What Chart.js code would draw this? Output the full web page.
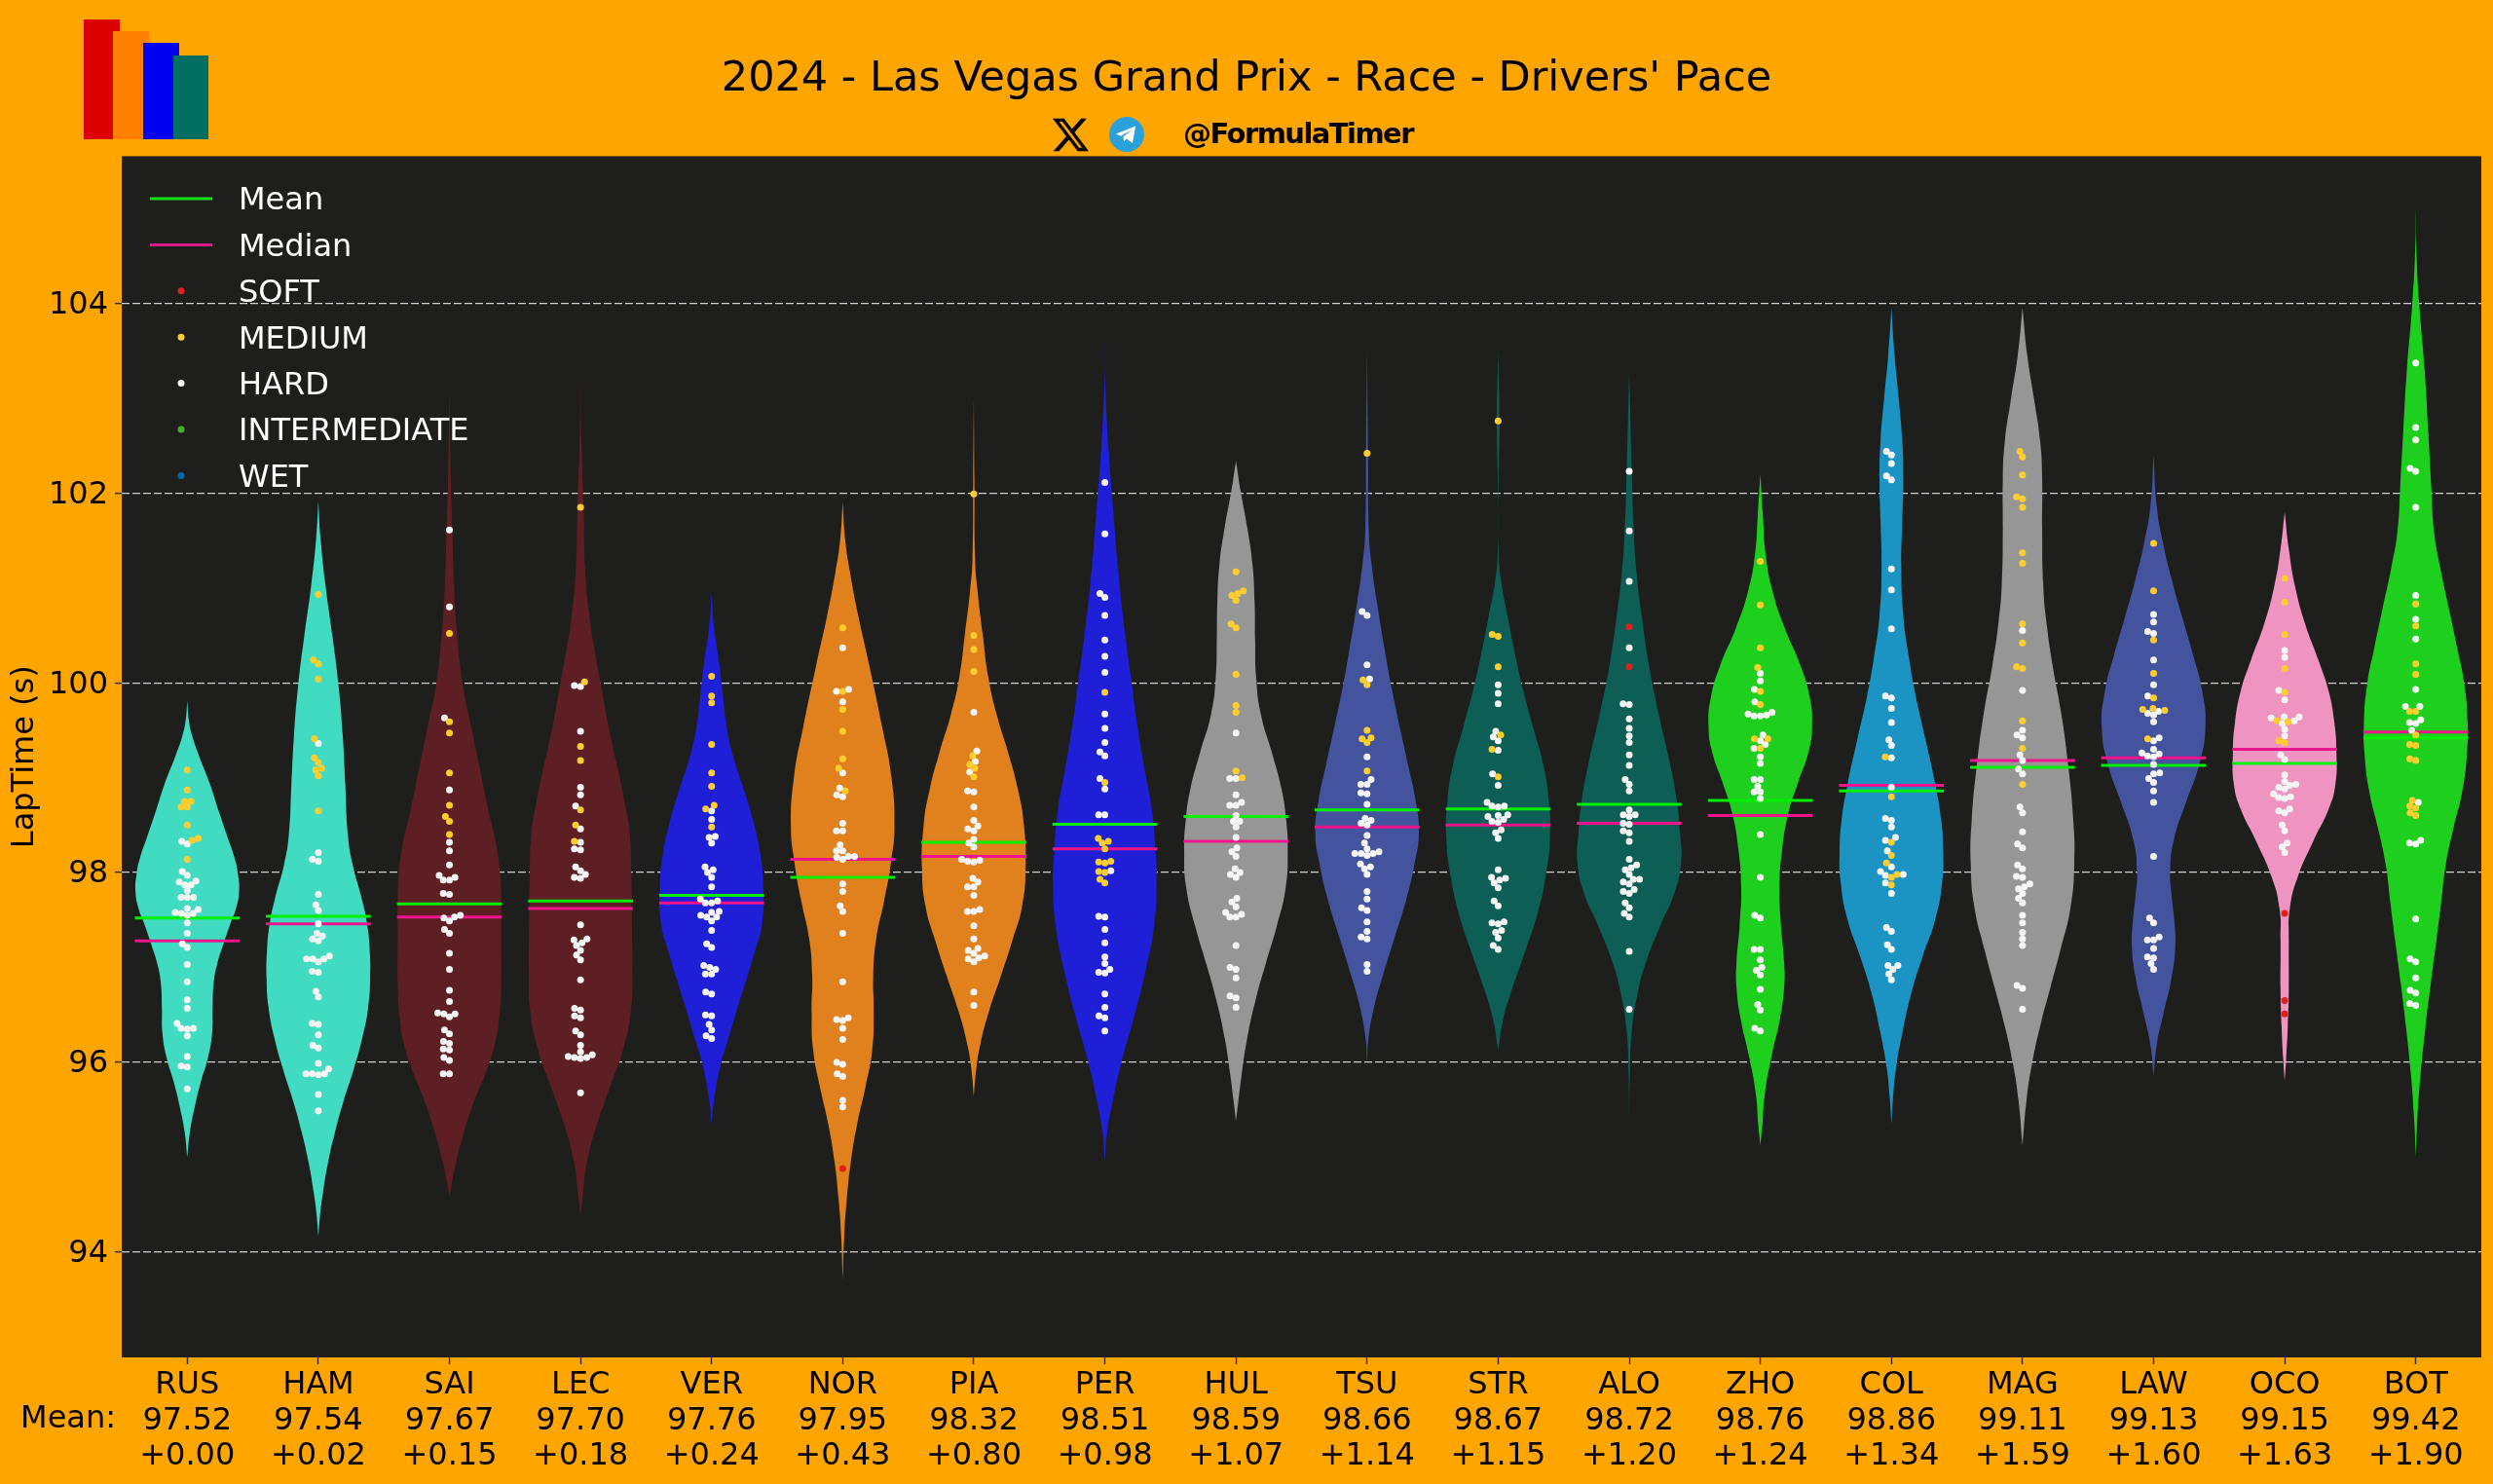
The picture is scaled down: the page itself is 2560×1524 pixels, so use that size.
<!DOCTYPE html>
<html>
<head>
<meta charset="utf-8">
<title>Drivers' Pace</title>
<script src="https://cdn.jsdelivr.net/npm/chart.js@4"></script>
<style>
  html, body { margin: 0; padding: 0; background: #FFA500; }
  #wrap { position: relative; width: 2560px; height: 1524px; overflow: hidden; }
  #wrap canvas { position: absolute; left: 0; top: 0; }
  .bar { position: absolute; }
  #handle { position: absolute; left: 1215px; top: 120px; font: bold 29px "DejaVu Sans", sans-serif; color: #000; letter-spacing: -1.55px; }
  svg { position: absolute; }
</style>
</head>
<body>
<div id="wrap">
  <canvas id="chart" width="2560" height="1524"></canvas>
  <div class="bar" style="left:86px;top:20px;width:37px;height:123px;background:#DC0000"></div>
  <div class="bar" style="left:116px;top:32px;width:37px;height:111px;background:#FF8000"></div>
  <div class="bar" style="left:147px;top:44px;width:37px;height:99px;background:#0000F0"></div>
  <div class="bar" style="left:178px;top:57px;width:36px;height:86px;background:#006F62"></div>
  <svg style="left:1081px;top:120px" width="37" height="37" viewBox="0 0 24 24"><path fill="#000" d="M18.901 1.153h3.68l-8.04 9.19L24 22.846h-7.406l-5.8-7.584-6.638 7.584H.474l8.6-9.83L0 1.154h7.594l5.243 6.932ZM17.61 20.644h2.039L6.486 3.24H4.298Z"/></svg>
  <svg style="left:1139px;top:120px" width="36" height="36" viewBox="0 0 36 36"><circle cx="18" cy="18" r="18" fill="#2AA1DA"/><path fill="#fff" d="M7 17.5 27 9.5 24 27 18 22.5 15 25.5 14.5 20.5 23.5 13 12 19.8Z"/></svg>
  <div id="handle">@FormulaTimer</div>
</div>
<script>
// ── data ──
const drivers = ['RUS','HAM','SAI','LEC','VER','NOR','PIA','PER','HUL','TSU','STR','ALO','ZHO','COL','MAG','LAW','OCO','BOT'];
const means = [97.52,97.54,97.67,97.70,97.76,97.95,98.32,98.51,98.59,98.66,98.67,98.72,98.76,98.86,99.11,99.13,99.15,99.42];
const gaps = ['+0.00','+0.02','+0.15','+0.18','+0.24','+0.43','+0.80','+0.98','+1.07','+1.14','+1.15','+1.20','+1.24','+1.34','+1.59','+1.60','+1.63','+1.90'];
const medians = [97.28,97.46,97.53,97.62,97.68,98.14,98.17,98.25,98.33,98.48,98.50,98.52,98.60,98.92,99.18,99.21,99.30,99.48];
const yTicks = [94,96,98,100,102,104];

const softLaps = [
  [],[],[],[],[],
  [94.88],
  [],[],[],[],[],
  [100.59,100.17],
  [],[],[],[],
  [97.57,96.65,96.51],
  []
];
const mediumLaps = [
  [99.08,98.87,98.75,98.75,98.69,98.69,98.50,98.36,98.34,98.14],
  [100.93,100.24,100.20,100.04,99.41,99.21,99.16,99.10,99.08,99.02,98.65],
  [100.52,99.59,99.47,99.05,98.71,98.59,98.54,98.40],
  [101.85,100.01,99.33,99.18,98.66,98.50,98.33],
  [100.07,99.86,99.79,99.35,99.05,98.91,98.71,98.67,98.48],
  [100.58,99.91,99.72,99.49,99.20,99.10,98.86],
  [101.99,100.50,100.35,100.12,99.23,99.14,99.10,99.01],
  [99.90,98.95,98.33,98.36,98.31,98.25,98.11,98.10,98.12,98.01,98.00,97.93,97.89],
  [101.17,100.97,100.92,100.94,100.87,100.62,100.58,100.09,99.76,99.69,99.07,99.00],
  [102.42,100.03,99.98,99.50,99.42,99.41,99.37,99.07],
  [102.76,100.51,100.49,100.17,99.45,99.30,99.01],
  [],
  [101.28,100.82,100.37,100.16,99.91,99.77,99.41,99.41,99.31],
  [99.22,98.80,98.32,98.18,98.10,97.95,97.98,97.87],
  [102.44,102.38,102.19,101.96,101.94,101.85,101.37,101.26,100.62,100.42,100.17,100.15,99.60,99.31,98.93],
  [101.47,100.97,100.45,100.10,99.84,99.73,99.72,99.71,99.41],
  [101.10,100.85,100.51,100.15,99.90,99.59,99.60,99.39,99.37],
  [100.83,100.60,100.20,100.09,99.70,99.70,99.45,99.35,99.34,99.20,99.18,98.76,98.70,98.68,98.63,98.60]
];
const hardLaps = [
  [98.33,98.30,98.01,97.97,97.91,97.90,97.87,97.87,97.81,97.74,97.74,97.74,97.62,97.61,97.58,97.57,97.57,97.55,97.47,97.36,97.25,97.21,97.03,96.85,96.66,96.57,96.41,96.36,96.36,96.35,96.28,96.06,95.96,95.95,95.72],
  [99.36,98.21,98.14,98.12,97.77,97.66,97.60,97.46,97.36,97.33,97.30,97.28,97.12,97.09,97.09,97.09,97.06,96.96,96.95,96.75,96.69,96.41,96.40,96.29,96.18,96.15,95.99,95.93,95.88,95.87,95.88,95.88,95.66,95.49],
  [101.61,100.80,99.63,98.87,98.32,98.23,98.08,97.97,97.95,97.92,97.92,97.78,97.77,97.55,97.53,97.52,97.49,97.40,97.36,97.15,96.98,96.76,96.64,96.52,96.51,96.51,96.48,96.34,96.30,96.22,96.20,96.14,96.13,96.05,96.02,95.88,95.88],
  [99.97,99.96,99.49,98.90,98.82,98.70,98.46,98.32,98.25,98.24,98.06,98.02,97.98,97.95,97.94,97.45,97.29,97.30,97.26,97.23,97.18,97.13,97.08,96.87,96.57,96.55,96.49,96.47,96.33,96.29,96.18,96.11,96.08,96.05,96.04,96.05,96.06,95.68],
  [98.65,98.56,98.37,98.38,98.31,98.06,98.03,98.00,97.95,97.85,97.72,97.68,97.68,97.70,97.59,97.58,97.55,97.53,97.53,97.49,97.39,97.25,97.21,97.02,97.00,96.98,96.93,96.93,96.74,96.72,96.50,96.49,96.40,96.34,96.28,96.25],
  [100.37,99.91,99.93,99.80,99.05,98.89,98.82,98.80,98.52,98.44,98.44,98.29,98.23,98.23,98.16,98.14,98.17,98.17,97.88,97.80,97.65,97.59,97.36,96.85,96.45,96.44,96.47,96.36,96.24,96.00,95.98,95.88,95.85,95.60,95.53],
  [99.69,99.28,99.17,99.06,98.86,98.85,98.69,98.55,98.49,98.46,98.44,98.35,98.31,98.27,98.14,98.12,98.11,98.13,97.94,97.90,97.85,97.85,97.76,97.59,97.59,97.61,97.44,97.30,97.20,97.18,97.15,97.12,97.09,97.10,97.06,96.74,96.60],
  [102.11,101.57,100.94,100.90,100.71,100.45,100.28,100.11,99.67,99.52,99.37,99.27,99.23,98.99,98.88,98.61,98.61,98.02,97.54,97.53,97.40,97.26,97.11,97.04,96.98,96.95,96.94,96.72,96.58,96.49,96.47,96.33],
  [99.47,98.99,98.99,98.82,98.71,98.71,98.74,98.60,98.54,98.54,98.48,98.37,98.26,98.22,98.17,98.04,98.00,97.98,97.95,97.73,97.69,97.64,97.58,97.53,97.53,97.56,97.23,97.00,96.98,96.89,96.70,96.68,96.58],
  [100.75,100.71,100.19,100.04,99.22,98.98,98.93,98.93,98.84,98.83,98.72,98.57,98.55,98.52,98.50,98.39,98.31,98.25,98.22,98.20,98.18,98.20,98.20,98.09,98.06,98.04,97.98,97.80,97.72,97.63,97.60,97.48,97.38,97.32,97.30,97.03,96.96],
  [99.98,99.89,99.78,99.49,99.43,99.39,99.29,99.04,98.92,98.74,98.70,98.70,98.69,98.60,98.59,98.61,98.56,98.54,98.53,98.45,98.42,98.36,98.03,97.95,97.94,97.92,97.89,97.84,97.70,97.65,97.47,97.46,97.48,97.39,97.37,97.31,97.23,97.19],
  [102.23,101.60,101.07,100.37,99.78,99.77,99.62,99.52,99.44,99.37,99.24,99.13,98.98,98.93,98.86,98.66,98.61,98.61,98.59,98.52,98.51,98.44,98.42,98.33,98.14,98.08,98.05,98.03,97.98,97.93,97.93,97.90,97.88,97.82,97.80,97.78,97.68,97.63,97.57,97.53,97.17,96.56],
  [100.10,100.02,99.93,99.80,99.67,99.65,99.65,99.66,99.69,99.45,99.39,99.35,99.31,99.22,99.15,98.98,98.98,98.91,98.85,98.85,98.78,98.40,97.95,97.55,97.52,97.19,97.19,97.08,97.00,96.97,96.92,96.77,96.61,96.55,96.36,96.33],
  [102.44,102.40,102.31,102.18,102.14,101.20,100.98,100.57,99.86,99.84,99.73,99.58,99.40,99.34,99.21,98.90,98.57,98.55,98.48,98.37,98.34,98.23,98.06,98.01,97.97,97.98,97.89,97.78,97.42,97.38,97.24,97.19,97.02,97.02,96.98,96.93,96.87],
  [100.55,99.92,99.50,99.45,99.42,99.24,99.18,99.09,99.04,98.69,98.63,98.43,98.30,98.26,98.08,98.04,97.96,97.95,97.88,97.85,97.83,97.78,97.73,97.68,97.55,97.47,97.37,97.30,97.23,96.81,96.78,96.56],
  [100.72,100.64,100.54,100.52,100.24,99.98,99.86,99.68,99.66,99.70,99.59,99.42,99.39,99.30,99.25,99.26,99.23,99.22,99.14,99.04,99.05,98.99,98.95,98.86,98.74,98.17,97.52,97.47,97.32,97.29,97.29,97.20,97.11,97.10,97.04,96.98],
  [100.34,100.27,99.92,99.82,99.63,99.64,99.64,99.57,99.60,99.51,99.44,99.24,99.19,99.03,98.96,98.92,98.93,98.90,98.88,98.83,98.79,98.78,98.80,98.67,98.65,98.63,98.50,98.44,98.31,98.27,98.21],
  [103.37,102.69,102.56,102.26,102.23,101.85,100.92,100.67,100.46,99.93,99.75,99.75,99.61,99.58,99.57,99.50,98.74,98.34,98.31,98.30,97.51,97.09,97.06,96.89,96.76,96.73,96.62,96.60]
];

// violin outlines: [lap time, density relative to the widest point]
const violinProfiles = [
  [[99.81,0],[99.61,.03],[99.45,.09],[99.24,.22],[98.93,.44],[98.66,.60],[98.40,.76],[98.14,.92],[97.98,.98],[97.80,1],[97.62,.94],[97.46,.83],[97.25,.70],[97.04,.58],[96.83,.51],[96.57,.49],[96.31,.48],[96.05,.40],[95.79,.26],[95.52,.14],[95.26,.05],[95.00,0]],
  [[101.91,0],[101.54,.04],[101.02,.14],[100.50,.27],[99.97,.39],[99.45,.47],[98.93,.52],[98.40,.57],[98.09,.66],[97.72,.84],[97.46,.94],[97.20,.99],[96.88,1],[96.57,.96],[96.26,.85],[95.94,.69],[95.58,.48],[95.26,.32],[94.95,.19],[94.63,.09],[94.37,.03],[94.16,0]],
  [[103.10,0],[102.07,.03],[101.54,.06],[101.02,.09],[100.50,.15],[99.97,.26],[99.56,.41],[99.14,.57],[98.66,.75],[98.30,.90],[97.98,.98],[97.72,1],[97.36,1],[96.83,1],[96.52,.97],[96.20,.88],[95.89,.70],[95.58,.47],[95.26,.28],[94.95,.13],[94.74,.05],[94.58,0]],
  [[103.20,0],[102.68,.012],[101.83,.06],[101.20,.09],[100.71,.17],[100.32,.28],[99.99,.39],[99.54,.54],[99.14,.70],[98.75,.85],[98.42,.95],[97.99,.98],[97.57,.99],[96.92,1],[96.53,.97],[96.13,.82],[95.74,.57],[95.35,.32],[94.96,.13],[94.63,.05],[94.37,0]],
  [[100.95,0],[100.58,.05],[100.19,.15],[99.86,.22],[99.54,.29],[99.24,.41],[98.88,.62],[98.55,.80],[98.23,.93],[97.84,1],[97.44,.97],[97.18,.84],[96.92,.70],[96.59,.51],[96.26,.33],[95.94,.16],[95.61,.05],[95.35,0]],
  [[101.90,0],[101.50,.05],[101.17,.14],[100.71,.30],[100.19,.51],[99.54,.76],[99.01,.94],[98.49,1],[98.10,.93],[97.70,.80],[97.31,.65],[96.92,.59],[96.53,.60],[96.13,.57],[95.74,.44],[95.35,.28],[94.96,.16],[94.56,.08],[94.17,.03],[93.70,0]],
  [[103.00,0],[102.15,.012],[101.30,.025],[100.98,.07],[100.52,.17],[100.06,.28],[99.67,.44],[99.27,.66],[98.88,.85],[98.49,.97],[98.03,1],[97.64,.93],[97.31,.76],[96.92,.53],[96.53,.29],[96.20,.13],[95.94,.05],[95.64,0]],
  [[103.60,0],[103.14,.01],[102.48,.07],[101.83,.16],[101.17,.26],[100.52,.39],[99.99,.52],[99.54,.63],[99.08,.77],[98.69,.90],[98.23,.98],[97.84,1],[97.44,.95],[97.05,.82],[96.53,.59],[96.00,.32],[95.61,.16],[95.28,.05],[94.96,0]],
  [[102.34,0],[102.02,.09],[101.63,.22],[101.24,.32],[100.85,.36],[100.45,.37],[100.06,.39],[99.67,.48],[99.27,.69],[98.88,.88],[98.55,.97],[98.23,1],[97.84,.96],[97.44,.79],[97.05,.58],[96.66,.38],[96.26,.22],[95.87,.11],[95.61,.05],[95.38,0]],
  [[103.50,0],[102.42,.02],[101.60,.035],[101.24,.09],[100.85,.19],[100.32,.35],[99.93,.48],[99.54,.63],[99.14,.79],[98.75,.94],[98.42,1],[98.10,.92],[97.70,.75],[97.31,.53],[96.92,.31],[96.59,.14],[96.26,.03],[96.00,0]],
  [[103.50,0],[102.74,.025],[102.09,.006],[101.43,.006],[101.10,.05],[100.71,.18],[100.32,.32],[99.93,.48],[99.54,.67],[99.14,.87],[98.75,.98],[98.36,1],[97.97,.92],[97.57,.76],[97.18,.53],[96.79,.28],[96.46,.10],[96.13,0]],
  [[103.30,0],[102.22,.05],[101.57,.09],[101.17,.14],[100.71,.24],[100.19,.38],[99.67,.57],[99.14,.79],[98.75,.92],[98.42,.98],[98.10,1],[97.78,.87],[97.44,.60],[97.05,.32],[96.72,.16],[96.33,.05],[95.87,.012],[95.40,0]],
  [[102.20,0],[101.76,.05],[101.37,.10],[100.98,.23],[100.58,.47],[100.19,.77],[99.86,.95],[99.54,1],[99.27,.93],[98.95,.73],[98.62,.54],[98.23,.42],[97.84,.37],[97.44,.40],[97.05,.46],[96.79,.46],[96.46,.38],[96.07,.22],[95.68,.09],[95.35,.04],[95.12,0]],
  [[103.95,0],[103.46,.06],[103.00,.14],[102.55,.21],[102.15,.23],[101.70,.21],[101.24,.19],[100.71,.23],[100.26,.34],[99.86,.47],[99.40,.66],[98.95,.84],[98.56,.96],[98.23,1],[97.90,.98],[97.51,.85],[97.11,.60],[96.72,.38],[96.33,.22],[95.94,.09],[95.61,.03],[95.35,0]],
  [[103.95,0],[103.46,.09],[103.00,.22],[102.55,.34],[102.15,.38],[101.63,.38],[101.04,.40],[100.65,.46],[100.19,.58],[99.67,.75],[99.14,.88],[98.56,.98],[98.10,1],[97.64,.93],[97.18,.73],[96.79,.54],[96.40,.35],[96.00,.19],[95.61,.08],[95.12,0]],
  [[102.40,0],[101.87,.06],[101.48,.18],[101.09,.35],[100.70,.55],[100.30,.76],[99.91,.94],[99.52,1],[99.12,.87],[98.73,.62],[98.34,.39],[98.01,.32],[97.75,.35],[97.49,.40],[97.23,.42],[96.90,.35],[96.51,.19],[96.18,.06],[95.85,0]],
  [[101.80,0],[101.41,.08],[101.02,.20],[100.63,.39],[100.24,.65],[99.91,.85],[99.58,.96],[99.26,1],[98.93,.98],[98.67,.85],[98.34,.56],[97.95,.25],[97.62,.10],[97.29,.08],[96.77,.08],[96.38,.06],[96.05,.03],[95.80,0]],
  [[105.00,0],[104.55,.012],[103.97,.07],[103.31,.17],[102.66,.24],[102.07,.30],[101.61,.35],[101.22,.47],[100.76,.65],[100.37,.80],[99.98,.94],[99.58,1],[99.26,.99],[98.86,.90],[98.47,.73],[98.08,.58],[97.68,.49],[97.29,.40],[96.83,.29],[96.38,.19],[95.85,.09],[95.39,.03],[95.00,0]]
];

// ── styles ──
const violinColors = ['#40DBC0','#40DBC0','#5E1F24','#5E1F24','#1F1FD8','#E0811E','#E0811E','#1F1FD8','#969696','#43539E','#0D5F56','#0D5F56','#1ECF1E','#1B94C4','#969696','#43539E','#EF94C0','#1ECF1E'];
const compoundColors = { SOFT: '#E0201C', MEDIUM: '#FFCE2E', HARD: '#F5F5F5', INTERMEDIATE: '#43B02A', WET: '#0067AD' };
const MEAN_COLOR = '#00F000';
const MEDIAN_COLOR = '#F0148C';
const PANEL = '#1E1E1C';
const FONT = '"DejaVu Sans", sans-serif';
const HALF_WIDTH = 0.395;
const LINE_HALF = 0.4;
const LEGEND_ROWS = ['Mean','Median','SOFT','MEDIUM','HARD','INTERMEDIATE','WET'];

// beeswarm: same idea as a swarm plot, nearest free spot to the centre line
const PX_PER_LAP = 97.35, PX_PER_CAT = 134.6, DOT = 6.4;
function swarm(laps) {
  const sorted = laps.slice().sort((a, b) => a.lap - b.lap);
  const placed = [];
  sorted.forEach(p => {
    const py = p.lap * PX_PER_LAP;
    const near = placed.filter(q => Math.abs(q.py - py) < DOT);
    const candidates = [0];
    near.forEach(q => {
      const dx = Math.sqrt(DOT * DOT - (q.py - py) * (q.py - py));
      candidates.push(q.px - dx, q.px + dx);
    });
    candidates.sort((a, b) => Math.abs(a) - Math.abs(b));
    const px = candidates.find(c => near.every(q => Math.hypot(q.px - c, q.py - py) >= DOT - 0.01));
    placed.push({ px: px, py: py, lap: p.lap, compound: p.compound });
  });
  return placed;
}

const dots = { SOFT: [], MEDIUM: [], HARD: [] };
drivers.forEach((d, i) => {
  const laps = [];
  softLaps[i].forEach(v => laps.push({ lap: v, compound: 'SOFT' }));
  mediumLaps[i].forEach(v => laps.push({ lap: v, compound: 'MEDIUM' }));
  hardLaps[i].forEach(v => laps.push({ lap: v, compound: 'HARD' }));
  swarm(laps).forEach(p => dots[p.compound].push({ x: i + p.px / PX_PER_CAT, y: p.lap }));
});

const datasets = [];
drivers.forEach((d, i) => {
  const profile = violinProfiles[i];
  const right = profile.map(p => ({ x: i + p[1] * HALF_WIDTH, y: p[0] }));
  const left = profile.map(p => ({ x: i - p[1] * HALF_WIDTH, y: p[0] })).reverse();
  datasets.push({
    label: d + ' violin', data: right.concat(left),   // bottom tip twice keeps it sharp
    showLine: true, fill: 'shape', tension: 0.5, pointRadius: 0, borderWidth: 0,
    backgroundColor: violinColors[i], borderColor: violinColors[i], order: 4
  });
  datasets.push({
    label: d + ' mean', data: [{ x: i - LINE_HALF, y: means[i] }, { x: i + LINE_HALF, y: means[i] }],
    showLine: true, pointRadius: 0, borderWidth: 3, borderColor: MEAN_COLOR, order: 3
  });
  datasets.push({
    label: d + ' median', data: [{ x: i - LINE_HALF, y: medians[i] }, { x: i + LINE_HALF, y: medians[i] }],
    showLine: true, pointRadius: 0, borderWidth: 3, borderColor: MEDIAN_COLOR, order: 2
  });
});
Object.keys(dots).forEach(c => {
  datasets.push({
    label: c, data: dots[c], pointRadius: 3.5, pointBorderWidth: 0,
    pointBackgroundColor: compoundColors[c], showLine: false, order: 1
  });
});

const panelPlugin = {
  id: 'panel',
  beforeDraw(chart) {
    const a = chart.chartArea, ctx = chart.ctx;
    ctx.save();
    ctx.fillStyle = PANEL;
    ctx.fillRect(a.left, a.top, a.right - a.left, a.bottom - a.top);
    ctx.restore();
  },
  afterDraw(chart) {
    const ctx = chart.ctx;
    ctx.save();
    // "Mean:" row head
    ctx.font = '32px ' + FONT;
    ctx.fillStyle = '#000';
    ctx.textAlign = 'right';
    ctx.textBaseline = 'middle';
    ctx.fillText('Mean:', 119, 1457.5);
    // legend
    ctx.textAlign = 'left';
    LEGEND_ROWS.forEach((name, r) => {
      const y = 207 + r * 47.4;
      if (name === 'Mean' || name === 'Median') {
        ctx.strokeStyle = name === 'Mean' ? '#14E014' : '#D81C8C';
        ctx.lineWidth = 3;
        ctx.beginPath(); ctx.moveTo(154, y - 3); ctx.lineTo(218, y - 3); ctx.stroke();
      } else {
        ctx.fillStyle = compoundColors[name];
        ctx.beginPath(); ctx.arc(186, y - 3, 3.5, 0, Math.PI * 2); ctx.fill();
      }
      ctx.fillStyle = '#fff';
      ctx.fillText(name, 245, y);
    });
    ctx.restore();
  }
};

new Chart(document.getElementById('chart'), {
  type: 'scatter',
  data: { datasets: datasets },
  plugins: [panelPlugin],
  options: {
    responsive: false,
    animation: false,
    devicePixelRatio: 1,
    layout: { padding: { left: 12, right: 12, top: 0, bottom: 0 } },
    plugins: {
      legend: { display: false },
      tooltip: { enabled: false },
      title: {
        display: true,
        text: "2024 - Las Vegas Grand Prix - Race - Drivers' Pace",
        color: '#000',
        font: { family: FONT, size: 43, weight: 'normal', lineHeight: 1.2 },
        padding: { top: 56, bottom: 52.8 }
      }
    },
    scales: {
      x: {
        type: 'linear', min: -0.5, max: 17.5,
        afterBuildTicks(scale) { scale.ticks = drivers.map((d, i) => ({ value: i })); },
        afterFit(scale) { scale.height = 130; },
        grid: { drawOnChartArea: false, tickLength: 7, tickColor: '#333', tickWidth: 1.5 },
        border: { display: false },
        ticks: {
          color: '#000', font: { family: FONT, size: 32, lineHeight: 1.15 }, padding: 3,
          maxRotation: 0, autoSkip: false,
          callback(v) { return [drivers[v], means[v].toFixed(2), gaps[v]]; }
        }
      },
      y: {
        type: 'linear', min: 92.89, max: 105.55,
        afterBuildTicks(scale) { scale.ticks = yTicks.map(v => ({ value: v })); },
        afterFit(scale) { scale.width = 113; },
        grid: { color: '#CFCFCF', lineWidth: 1.3, tickLength: 7, tickColor: '#333', tickWidth: 1.5 },
        border: { display: false, dash: [8, 3] },
        ticks: { color: '#000', font: { family: FONT, size: 32 }, padding: 7, labelOffset: 2 },
        title: {
          display: true, text: 'LapTime (s)', color: '#000',
          font: { family: FONT, size: 32, lineHeight: 1 }, padding: { top: -2, bottom: 0 }
        }
      }
    }
  }
});
</script>
</body>
</html>
